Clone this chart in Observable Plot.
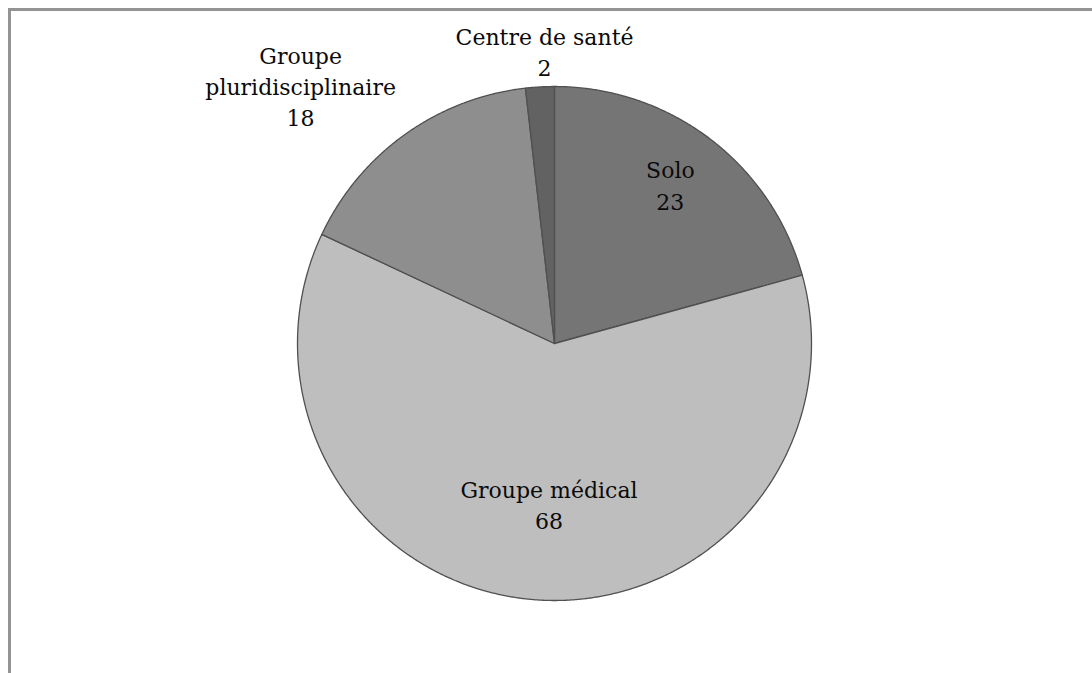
<!DOCTYPE html>
<html>
<head>
<meta charset="utf-8">
<script src="https://cdn.jsdelivr.net/npm/d3@7"></script>
<script src="https://cdn.jsdelivr.net/npm/@observablehq/plot@0.6"></script>
<style>
  html, body { margin: 0; padding: 0; background: #fff; overflow: hidden; }
  #wrap { position: relative; width: 1092px; height: 673px; }
  #frame { position: absolute; left: 8px; top: 8px; width: 1200px; height: 800px;
           border-top: 3px solid #949494; border-left: 3px solid #949494; box-sizing: border-box; }
  #chart { position: absolute; left: 0; top: 0; }
</style>
</head>
<body>
<div id="wrap"><div id="frame"></div><div id="chart"></div></div>
<script>
// ---- data ----
const categories = ["Solo", "Groupe médical", "Groupe pluridisciplinaire", "Centre de santé"];
const values = [23, 68, 18, 2];
const labelTexts = ["Solo", "Groupe médical", "Groupe\npluridisciplinaire", "Centre de santé"];
const colors = ["#757575", "#bebebe", "#8e8e8e", "#626262"];

// label layout (radius factor and angle shift in degrees from slice middle)
const labelLayout = {
  "Solo": {r: 0.767, shift: -1.3},
  "Groupe médical": {r: 0.622, shift: -2.9},
  "Groupe pluridisciplinaire": {r: 1.41, shift: -8.8},
  "Centre de santé": {r: 1.142, shift: 1.3}
};

const pie = d3.pie().sort(null).value(d => d.value)(categories.map((c, i) => ({cat: c, value: values[i], label: labelTexts[i]})));

const slicePts = [];
for (const a of pie) {
  slicePts.push({cat: a.data.cat, x: 0, y: 0});
  const n = Math.max(4, Math.ceil((a.endAngle - a.startAngle) / 0.005));
  for (let k = 0; k <= n; k++) {
    const t = a.startAngle + (a.endAngle - a.startAngle) * k / n;
    slicePts.push({cat: a.data.cat, x: Math.sin(t), y: Math.cos(t)});
  }
}

const labels = pie.map(a => {
  const L = labelLayout[a.data.cat];
  const mid = (a.startAngle + a.endAngle) / 2 + L.shift * Math.PI / 180;
  return {cat: a.data.cat, x: L.r * Math.sin(mid), y: L.r * Math.cos(mid), text: a.data.label + "\n" + a.data.value};
});

const chart = Plot.plot({
  width: 1092,
  height: 673,
  marginLeft: 297,
  marginRight: 281,
  marginTop: 86,
  marginBottom: 73,
  x: {domain: [-1, 1], axis: null},
  y: {domain: [-1, 1], axis: null},
  color: {domain: categories, range: colors},
  style: {background: "transparent", fontFamily: "'DejaVu Serif', serif"},
  marks: [
    Plot.line(slicePts, {x: "x", y: "y", z: "cat", fill: "cat", stroke: "#505050", strokeWidth: 1.3, curve: "linear-closed", strokeLinejoin: "round"}),
    Plot.text(labels, {x: "x", y: "y", text: "text", fontSize: 22, lineHeight: 1.42, fill: "#0a0a0a", textAnchor: "middle"})
  ]
});
document.getElementById("chart").appendChild(chart);
</script>
</body>
</html>
